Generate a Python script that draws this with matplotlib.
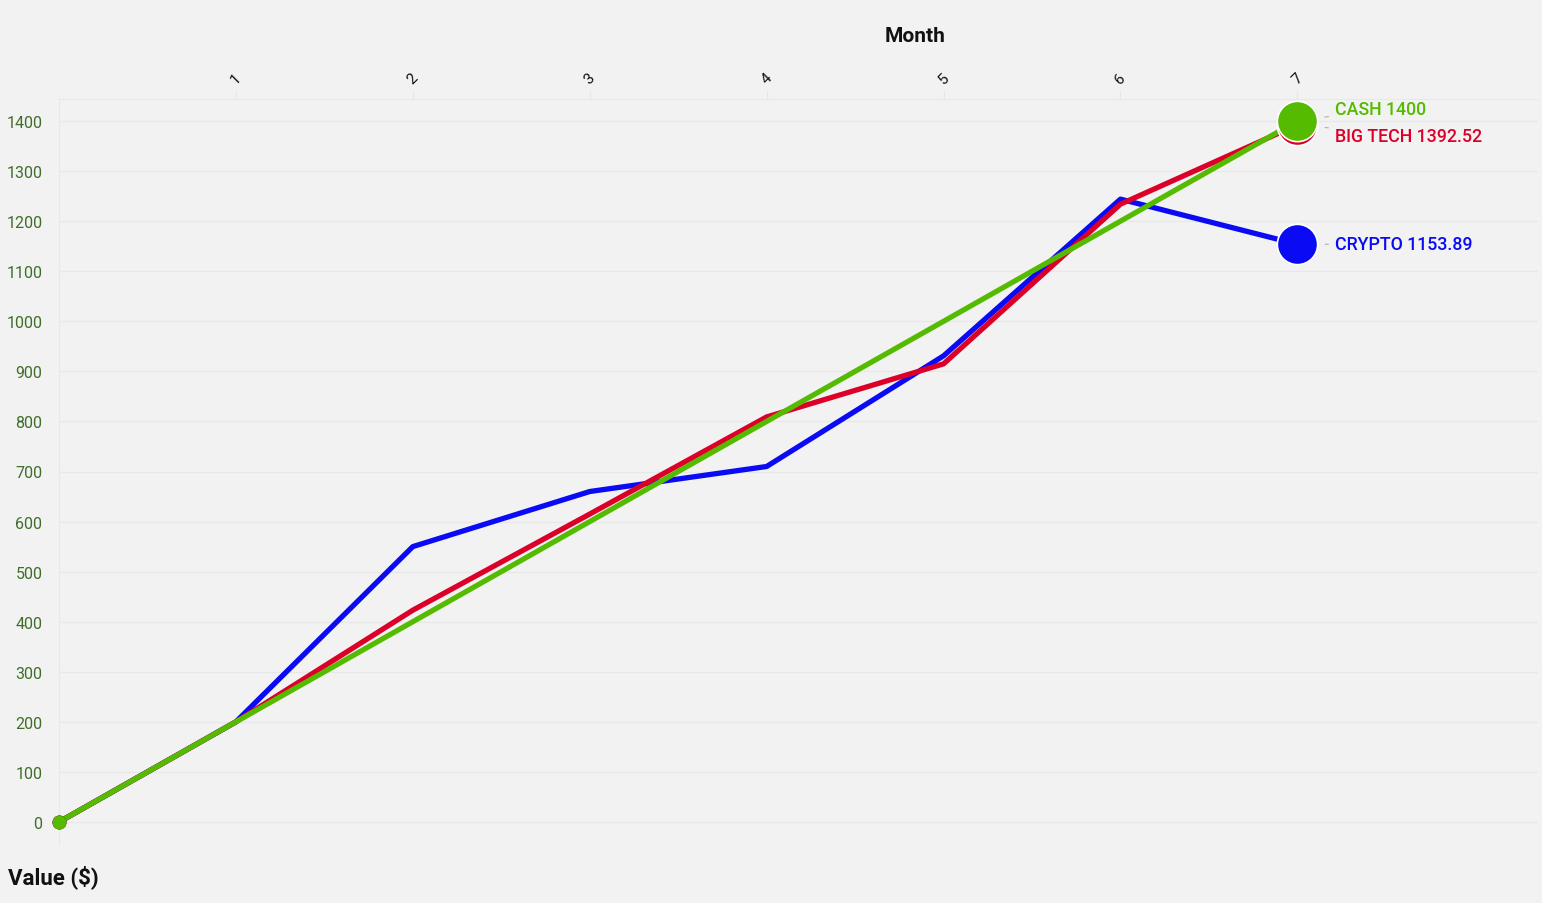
import matplotlib
matplotlib.use("Agg")
import matplotlib.pyplot as plt

months = [0, 1, 2, 3, 4, 5, 6, 7]
tick_months = [1, 2, 3, 4, 5, 6, 7]
crypto = [0, 200, 550, 660, 710, 931, 1244, 1153.89]
bigtech = [0, 200, 423, 615, 809, 915, 1234, 1392.52]
cash = [0, 200, 400, 600, 800, 1000, 1200, 1400]
series_names = ["CRYPTO", "BIG TECH", "CASH"]
series_values = [crypto, bigtech, cash]
series_colors = ["#0a0af5", "#dc0028", "#55bb00"]
y_ticks = list(range(0, 1401, 100))

plt.rcParams['font.family'] = ['Roboto', 'DejaVu Sans']

W, H = 1542, 904
fig = plt.figure(figsize=(W / 100, H / 100), dpi=100)
fig.patch.set_facecolor("#f2f2f2")
ax = fig.add_axes([59 / W, (H - 845) / H, (1538 - 59) / W, (845 - 100) / H])
ax.set_facecolor("#f2f2f2")

ax.set_xlim(0, 8.36)
ax.set_ylim(-44, 1444)

for name, vals, col in zip(series_names, series_values, series_colors):
    ax.plot(months, vals, color=col, lw=3.8, solid_capstyle='round',
            solid_joinstyle='round', zorder=3, clip_on=False)
    ax.plot(months[0], vals[0], 'o', color=col, ms=9, zorder=4, clip_on=False)
    ax.plot(months[-1], vals[-1], 'o', color=col, ms=29, mec='white', mew=1.2,
            zorder=6, clip_on=False)

label_offsets = {"CRYPTO": 0, "BIG TECH": -11, "CASH": 12}
for name, vals, col in zip(series_names, series_values, series_colors):
    v = vals[-1]
    txt = f"{name} {v:g}" if name != "CASH" else f"{name} {int(v)}"
    ax.annotate(txt, xy=(months[-1], v), xytext=(38, label_offsets[name]),
                textcoords='offset pixels', color=col, fontsize=12.8,
                fontweight='medium', va='center', ha='left', zorder=7,
                arrowprops=dict(arrowstyle='-', color='#b0b0b0', lw=0.8,
                                shrinkA=3, shrinkB=20))

ax.set_yticks(y_ticks)
ax.set_yticklabels([str(t) for t in y_ticks])
ax.tick_params(axis='y', length=0, pad=12, labelsize=11.5, labelcolor='#3f6e2a')

ax.xaxis.tick_top()
ax.set_xticks(tick_months)
ax.set_xticklabels([str(m) for m in tick_months], rotation=45, ha='center')
ax.tick_params(axis='x', length=6, color='#e6e6e6', pad=3, labelsize=11,
               labelcolor='#111111')

ax.grid(axis='y', color='#e8e8e8', lw=1)
ax.set_axisbelow(True)
for s in ['right', 'bottom']:
    ax.spines[s].set_visible(False)
ax.spines['top'].set_color('#e8e8e8')
ax.spines['left'].set_color('#e8e8e8')

fig.text(915 / W, 1 - 36 / H, "Month", ha='center', va='center',
         fontsize=15, fontweight='bold', color='#111111')
fig.text(8 / W, 1 - 877 / H, "Value ($)", ha='left', va='center',
         fontsize=16, fontweight='bold', color='#111111')

fig.savefig("out.png", dpi=100, facecolor=fig.get_facecolor())
